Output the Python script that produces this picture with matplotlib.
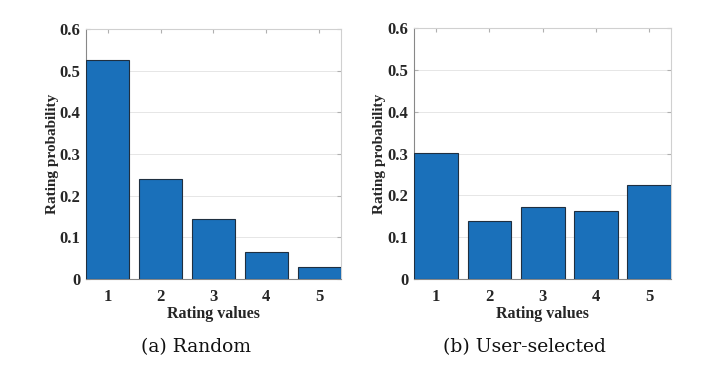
import matplotlib.pyplot as plt
import numpy as np

ratings = [1, 2, 3, 4, 5]
random_prob = [0.525, 0.240, 0.145, 0.064, 0.028]
user_prob = [0.302, 0.138, 0.172, 0.163, 0.226]
yticks = [0, 0.1, 0.2, 0.3, 0.4, 0.5, 0.6]
ytick_labels = ['0', '0.1', '0.2', '0.3', '0.4', '0.5', '0.6']
captions = ['(a) Random', '(b) User-selected']

bar_color = '#1a70ba'
edge_color = '#1f2f40'
width = 0.82

fig = plt.figure(figsize=(7.08, 3.71), dpi=100)
axes = [fig.add_axes([0.1215, 0.248, 0.360, 0.674]),
        fig.add_axes([0.585, 0.248, 0.363, 0.676])]

for ax, vals, cap in zip(axes, [random_prob, user_prob], captions):
    ax.bar(ratings, vals, width=width, color=bar_color, edgecolor=edge_color,
           linewidth=0.8, zorder=3)
    ax.set_xlim(1 - width / 2, 5 + width / 2)
    ax.set_ylim(0, 0.6)
    ax.set_xticks(ratings)
    ax.set_yticks(yticks)
    ax.set_yticklabels(ytick_labels)
    ax.yaxis.grid(True, color='#e6e6e6', linewidth=0.7, zorder=0)
    ax.tick_params(direction='in', top=True, right=True, length=3,
                   color='#b0b0b0', labelsize=12)
    ax.tick_params(axis='x', pad=7)
    ax.tick_params(axis='y', pad=4)
    for lab in ax.get_xticklabels() + ax.get_yticklabels():
        lab.set_fontfamily('Liberation Serif')
        lab.set_fontweight('bold')
        lab.set_color('#262626')
    for side in ['left', 'bottom']:
        ax.spines[side].set_color('#888888')
    for side in ['top', 'right']:
        ax.spines[side].set_color('#d0d0d0')
    ax.set_xlabel('Rating values', family='Liberation Serif', weight='bold',
                  size=11.5, color='#262626', labelpad=1)
    ax.set_ylabel('Rating probability', family='Liberation Serif', weight='bold',
                  size=11, color='#262626')
    ax.yaxis.set_label_coords(-0.133, 0.5)
    ax.yaxis.label.set_va('center')
    ax.text(0.43, -0.235, cap, transform=ax.transAxes, ha='center', va='top',
            family='DejaVu Serif', size=13.5, color='#111111')

fig.savefig('out.png', dpi=100)
